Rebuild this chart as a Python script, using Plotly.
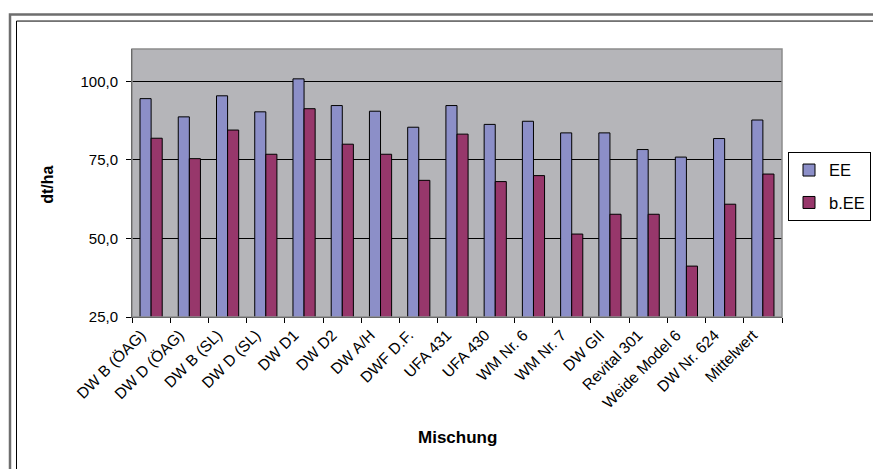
import plotly.graph_objects as go

categories = ["DW B (ÖAG)", "DW D (ÖAG)", "DW B (SL)", "DW D (SL)", "DW D1", "DW D2",
              "DW A/H", "DWF D.F.", "UFA 431", "UFA 430", "WM Nr. 6", "WM Nr. 7",
              "DW GII", "Revital 301", "Weide Model 6", "DW Nr. 624", "Mittelwert"]
ee = [94.5, 88.7, 95.4, 90.3, 100.8, 92.3, 90.5, 85.4, 92.3, 86.3, 87.3, 83.6,
      83.6, 78.3, 75.9, 81.8, 87.7]
bee = [81.9, 75.4, 84.5, 76.8, 91.3, 80.0, 76.8, 68.5, 83.2, 68.1, 70.0, 51.4,
       57.7, 57.7, 41.2, 60.9, 70.5]
y_ticks = [25, 50, 75, 100]
y_ticklabels = ["25,0", "50,0", "75,0", "100,0"]

W, H = 873, 469
L, R, T, B = 132, 91, 49, 151.5
pw, ph = W - L - R, H - T - B

def px(x):
    return (x - L) / pw

def py(y):
    return 1 - (y - T) / ph

fig = go.Figure()
fig.add_trace(go.Bar(x=categories, y=ee, name="EE", legendgroup="a",
                     marker=dict(color="#8C8FC8", line=dict(color="#000000", width=1))))
fig.add_trace(go.Bar(x=categories, y=bee, name="b.EE", legendgroup="b",
                     marker=dict(color="#97376B", line=dict(color="#000000", width=1))))

font = "Liberation Sans, Arial, sans-serif"
fig.update_layout(
    width=W, height=H,
    margin=dict(l=L, r=R, t=T, b=B, autoexpand=False),
    paper_bgcolor="white",
    plot_bgcolor="#B5B5B9",
    barmode="group", bargap=0.42, bargroupgap=0,
    separators=",.",
    font=dict(family=font, color="black", size=15),
    showlegend=True,
    legend=dict(x=px(788), y=py(152), xanchor="left", yanchor="top",
                bgcolor="white", bordercolor="black", borderwidth=1,
                font=dict(size=16.5, family=font), tracegroupgap=8,
                traceorder="grouped", itemwidth=30),
    xaxis=dict(type="category", showline=True, linecolor="black", linewidth=1,
               ticks="outside", ticklen=5, tickcolor="black", tickson="boundaries",
               tickangle=-45, tickfont=dict(size=15.5, family=font),
               ticklabelshift=-10, ticklabelstandoff=2,
               showgrid=False, automargin=False),
    yaxis=dict(range=[25, 110.3], tickvals=y_ticks, ticktext=y_ticklabels,
               showline=True, linecolor="black", linewidth=1,
               ticks="outside", ticklen=5, tickcolor="black",
               ticklabelstandoff=5,
               showgrid=True, gridcolor="black", gridwidth=1,
               zeroline=False, tickfont=dict(size=15, family=font), automargin=False),
    annotations=[
        dict(text="<b>Mischung</b>", xref="paper", yref="paper", x=0.5, y=py(438),
             xanchor="center", yanchor="middle", showarrow=False,
             font=dict(size=17, family=font, color="black")),
        dict(text="<b>dt/ha</b>", xref="paper", yref="paper", x=px(48), y=py(185),
             xanchor="center", yanchor="middle", showarrow=False, textangle=-90,
             font=dict(size=16, family=font, color="black")),
    ],
    shapes=[
        dict(type="rect", xref="paper", yref="paper", x0=0, x1=1, y0=0, y1=1,
             line=dict(color="#8C8C8C", width=1.5), layer="above"),
        dict(type="rect", xref="paper", yref="paper", x0=px(10), x1=px(900),
             y0=py(14.5), y1=py(500), line=dict(color="#6E6E6E", width=2.5), layer="above"),
        dict(type="rect", xref="paper", yref="paper", x0=px(16.5), x1=px(900),
             y0=py(21), y1=py(500), line=dict(color="black", width=1), layer="above"),
    ],
)

fig.write_html("out.html", config={"displayModeBar": False},
               post_script="document.body.style.margin='0px';document.body.style.overflow='hidden';")
